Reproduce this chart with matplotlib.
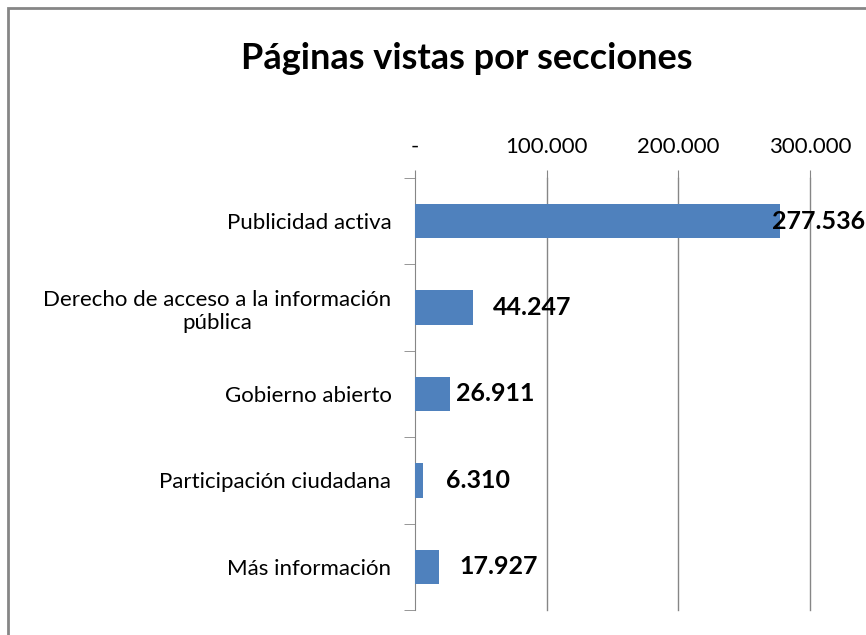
import matplotlib
matplotlib.use("Agg")
import matplotlib.pyplot as plt
from matplotlib.patches import Rectangle

# data
categories = ['Publicidad activa',
              'Derecho de acceso a la información\npública',
              'Gobierno abierto',
              'Participación ciudadana',
              'Más información']
views = [277536, 44247, 26911, 6310, 17927]
value_labels = ['277.536', '44.247', '26.911', '6.310', '17.927']
x_ticks = [0, 100000, 200000, 300000]
x_tick_labels = ['-', '100.000', '200.000', '300.000']

# label offsets from bar end, in points (Excel placed them unevenly)
label_offsets = [-6, 14, 4, 16, 15]

plt.rcParams['font.family'] = ['Lato', 'DejaVu Sans']

fig = plt.figure(figsize=(8.66, 6.35), dpi=100)
ax = fig.add_axes([0.4792, 0.0394, 0.9353 - 0.4792, 0.7197 - 0.0394])

n = len(categories)
ypos = list(range(n))
ax.barh(ypos, views, height=0.4, color='#4F81BD', zorder=3)

for y, v, lab, off in zip(ypos, views, value_labels, label_offsets):
    ax.annotate(lab, xy=(v, y), xytext=(off, 0), textcoords='offset points',
                ha='left', va='center', fontsize=18, fontweight='bold',
                color='black', annotation_clip=False, clip_on=False, zorder=5)

ax.set_xlim(0, 300000)
ax.set_ylim(n - 0.5, -0.5)

ax.xaxis.tick_top()
ax.set_xticks(x_ticks)
ax.set_xticklabels(x_tick_labels, fontsize=16)
ax.tick_params(axis='x', length=6, color='#868686', pad=9)
for gx in x_ticks[1:]:
    ax.axvline(gx, color='#868686', linewidth=1, zorder=0, clip_on=False)

ax.set_yticks(ypos)
ax.set_yticklabels(categories, fontsize=16, ha='right', multialignment='center')
ax.tick_params(axis='y', which='major', length=0, pad=17)
ax.set_yticks([i - 0.5 for i in range(n + 1)], minor=True)
ax.tick_params(axis='y', which='minor', length=8, color='#868686')

for s in ['top', 'right', 'bottom']:
    ax.spines[s].set_visible(False)
ax.spines['left'].set_color('#868686')

# outer chart border (right and bottom edges fall outside the picture)
fig.patches.append(Rectangle((8 / 866, -0.1), 1.2, 1 - 8 / 635 + 0.1,
                             transform=fig.transFigure, fill=False,
                             edgecolor='#868686', linewidth=2))

fig.text(0.539, 0.908, 'Páginas vistas por secciones', ha='center', va='center',
         fontsize=26, fontweight='bold')

plt.savefig('out.png', dpi=100)
plt.close()
